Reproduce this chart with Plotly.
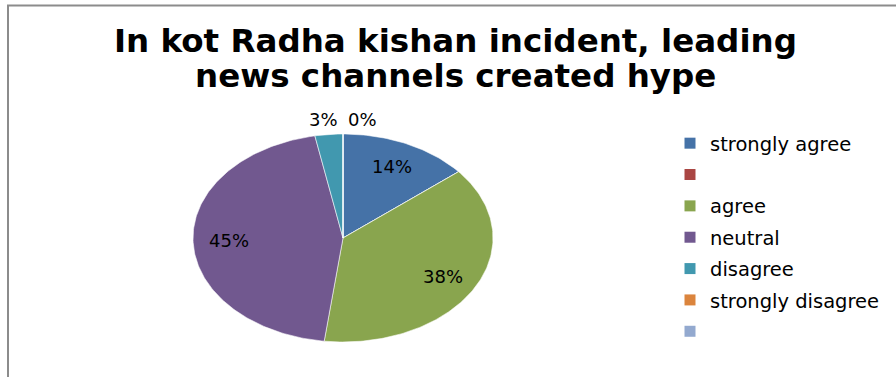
import numpy as np
import plotly.graph_objects as go

# Survey responses (percent of respondents)
categories = ["strongly agree", "", "agree", "neutral", "disagree", "strongly disagree", " "]
values = [14, 0, 38, 45, 3, 0, 0]
colors = ["#4572A7", "#AA4643", "#89A54E", "#71588F", "#4198AF", "#DB843D", "#93A9CF"]
show_label = [True, False, True, True, True, True, False]

title_lines = ["In kot Radha kishan incident, leading", "news channels created hype"]

W, H = 896, 377
# pie placement in pixels: centre and horizontal / vertical radii
CX, CY, RX, RY = 343, 238, 150, 104

fig = go.Figure()

total = sum(values)
start = 0.0
for name, v, c, show in zip(categories, values, colors, show_label):
    a0 = start
    a1 = start + 360.0 * v / total
    start = a1
    t = np.radians(np.linspace(a0, a1, max(2, int(abs(a1 - a0)) + 2)))
    xs = np.concatenate([[0.0], np.sin(t), [0.0]])
    ys = np.concatenate([[0.0], np.cos(t), [0.0]])
    fig.add_trace(go.Scatter(
        x=xs, y=ys, mode="lines", fill="toself", fillcolor=c,
        line=dict(color="rgba(255,255,255,0.55)", width=1),
        hoverinfo="skip", showlegend=False,
    ))
    if show:
        mid = np.radians((a0 + a1) / 2)
        pct = 100.0 * v / total
        if pct >= 5:
            r, anchor, shift = 0.76, "center", 0
        elif pct > 0:
            r, anchor, shift = 1.14, "center", -3
        else:
            r, anchor, shift = 1.14, "left", 3
        fig.add_annotation(
            x=r * np.sin(mid), y=r * np.cos(mid), text=f"{pct:.0f}%",
            showarrow=False, xanchor=anchor, yanchor="middle", xshift=shift,
            font=dict(family="DejaVu Sans", size=18, color="#000000"),
        )

# chart title, one annotation per line for tight line spacing
for i, line in enumerate(title_lines):
    fig.add_annotation(
        xref="paper", yref="paper", x=(455 / W), y=1 - (41 + 35 * i) / H,
        text=f"<b>{line}</b>", showarrow=False, xanchor="center", yanchor="middle",
        font=dict(family="DejaVu Sans", size=32.5, color="#000000"),
    )

# legend entries with square swatches
for i, (name, c) in enumerate(zip(categories, colors)):
    fig.add_trace(go.Scatter(
        x=[None], y=[None], mode="markers", name=name,
        marker=dict(symbol="square", size=11, color=c),
        legendgroup=f"g{i}", showlegend=True,
    ))

fig.add_shape(type="rect", xref="paper", yref="paper",
              x0=8 / W, x1=1.02, y0=-0.02, y1=1 - 5.5 / H,
              line=dict(color="#8c8c8c", width=2))

fig.update_layout(
    width=W, height=H,
    margin=dict(l=0, r=0, t=0, b=0),
    paper_bgcolor="white", plot_bgcolor="white",
    xaxis=dict(range=[-CX / RX, (W - CX) / RX], visible=False, fixedrange=True),
    yaxis=dict(range=[(CY - H) / RY, CY / RY], visible=False, fixedrange=True),
    legend=dict(x=670 / W, xanchor="left", y=1 - 124 / H, yanchor="top",
                font=dict(family="DejaVu Sans", size=19.5, color="#000000"),
                tracegroupgap=3, itemclick=False, bgcolor="rgba(0,0,0,0)"),
    showlegend=True,
)

fig.write_html("out.html")
